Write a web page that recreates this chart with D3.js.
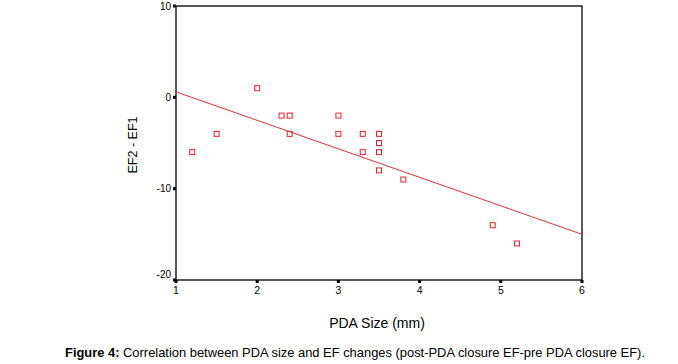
<!DOCTYPE html>
<html><head><meta charset="utf-8">
<script src="https://cdn.jsdelivr.net/npm/d3@7"></script>
<style>body{margin:0;background:#fff}svg{display:block}</style>
</head><body>
<svg id="c" width="678" height="364"></svg>
<script>
const pdaSize = [2.0, 2.3, 2.4, 3.0, 1.5, 2.4, 3.0, 3.3, 3.5, 3.5, 1.2, 3.3, 3.5, 3.5, 3.8, 4.9, 5.2];
const efChange = [1, -2, -2, -2, -4, -4, -4, -4, -4, -5, -6, -6, -6, -8, -9, -14, -16];
const fitX = [1, 6];
const fitY = [0.6, -15];
const xTicks = [1, 2, 3, 4, 5, 6];
const yTicks = [10, 0, -10, -20];

const svg = d3.select("#c");
const L = 176, R = 582, T = 6, B = 280;
const x = d3.scaleLinear().domain([1, 6]).range([L, R]);
const y = d3.scaleLinear().domain([-20, 10]).range([B, T]);
const font = "'Liberation Sans', Arial, sans-serif";

// frame
svg.append("rect").attr("x", L).attr("y", T).attr("width", R - L).attr("height", B - T)
  .attr("fill", "none").attr("stroke", "#000").attr("stroke-width", 1.3);

// fit line
svg.append("line").attr("x1", x(fitX[0])).attr("y1", y(fitY[0])).attr("x2", x(fitX[1])).attr("y2", y(fitY[1]))
  .attr("stroke", "#e8303a").attr("stroke-width", 1);

// points
svg.selectAll("rect.pt").data(pdaSize).enter().append("rect").attr("class", "pt")
  .attr("x", (d) => x(d) - 2.5).attr("y", (d, i) => y(efChange[i]) - 2.5)
  .attr("width", 5).attr("height", 5).attr("fill", "none").attr("stroke", "#e8202a").attr("stroke-width", 1);

// x ticks
svg.selectAll("rect.xt").data(xTicks).enter().append("rect")
  .attr("x", (d) => x(d) - 1.5).attr("y", B).attr("width", 3).attr("height", 3).attr("fill", "#000");
svg.selectAll("text.xl").data(xTicks).enter().append("text")
  .attr("x", (d) => x(d)).attr("y", B + 14).attr("text-anchor", "middle")
  .attr("font-family", font).attr("font-size", 10.5).text((d) => d);

// y ticks
svg.selectAll("rect.yt").data(yTicks).enter().append("rect")
  .attr("x", L - 3).attr("y", (d) => y(d) - 1.5).attr("width", 3).attr("height", 3).attr("fill", "#000");
svg.selectAll("text.yl").data(yTicks).enter().append("text")
  .attr("x", L - 5).attr("y", (d) => y(d) + (d === -20 ? -2 : 3.5)).attr("text-anchor", "end")
  .attr("font-family", font).attr("font-size", 10).text((d) => d === 10 ? "10" : d === 0 ? "0" : "-" + Math.abs(d));

// axis titles
svg.append("text").attr("transform", "translate(137,145) rotate(-90)").attr("text-anchor", "middle")
  .attr("font-family", font).attr("font-size", 12.5).text("EF2 - EF1");
svg.append("text").attr("x", 377).attr("y", 327.5).attr("text-anchor", "middle")
  .attr("font-family", font).attr("font-size", 14).text("PDA Size (mm)");

// caption
const cap = svg.append("text").attr("x", 65).attr("y", 357)
  .attr("font-family", "'Liberation Sans Narrow', 'Liberation Sans', Arial, sans-serif").attr("font-size", 13)
  .attr("textLength", 580).attr("lengthAdjust", "spacingAndGlyphs");
cap.append("tspan").attr("font-weight", "bold").text("Figure 4:");
cap.append("tspan").text(" Correlation between PDA size and EF changes (post-PDA closure EF-pre PDA closure EF).");
</script>
</body></html>
